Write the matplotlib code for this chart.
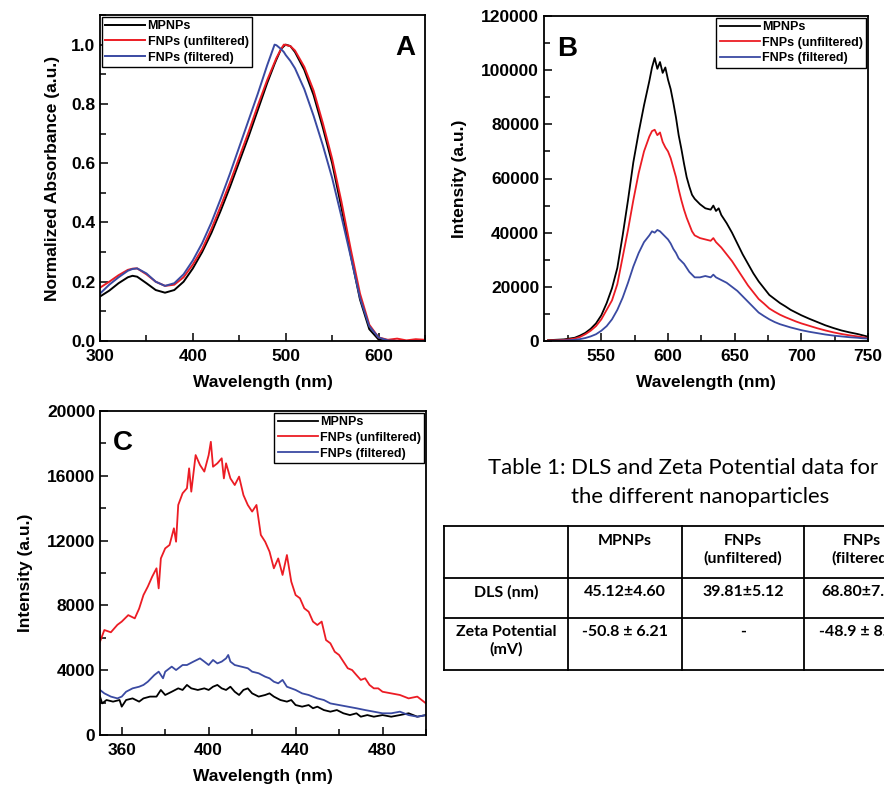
import matplotlib
matplotlib.use("Agg")
import matplotlib.pyplot as plt
from matplotlib.ticker import MultipleLocator

plt.rcParams["font.family"] = ["Liberation Sans", "DejaVu Sans"]
plt.rcParams["font.weight"] = "bold"
plt.rcParams["axes.labelweight"] = "bold"

BLACK = "#000000"
RED = "#ec1c24"
BLUE = "#3a4aa2"
LABELS = ["MPNPs", "FNPs (unfiltered)", "FNPs (filtered)"]

# ---- panel A: normalized absorbance ----
a_wl = [300, 310, 320, 330, 335, 340, 350, 360, 370, 380, 390, 400, 410, 420,
        430, 440, 450, 460, 470, 480, 488, 490, 495, 498, 500, 505, 510, 520,
        530, 540, 550, 560, 570, 580, 590, 600, 610, 620, 630, 640, 650]
a_mpnp = [0.150, 0.170, 0.195, 0.215, 0.220, 0.217, 0.195, 0.172, 0.163, 0.172,
          0.200, 0.245, 0.300, 0.365, 0.440, 0.520, 0.605, 0.690, 0.780, 0.870,
          0.935, 0.950, 0.985, 0.995, 1.000, 0.995, 0.975, 0.915, 0.830, 0.720,
          0.600, 0.450, 0.290, 0.140, 0.040, 0.005, 0.000, 0.000, 0.000, 0.000, 0.000]
a_unfilt = [0.180, 0.200, 0.222, 0.240, 0.244, 0.245, 0.225, 0.200, 0.186, 0.190,
            0.215, 0.258, 0.310, 0.378, 0.455, 0.535, 0.620, 0.705, 0.795, 0.880,
            0.940, 0.955, 0.985, 1.000, 0.999, 0.995, 0.980, 0.925, 0.845, 0.735,
            0.615, 0.470, 0.310, 0.160, 0.055, 0.012, 0.004, 0.008, 0.002, 0.006, 0.004]
a_filt = [0.160, 0.190, 0.215, 0.237, 0.243, 0.245, 0.228, 0.200, 0.186, 0.195,
          0.225, 0.272, 0.330, 0.400, 0.480, 0.565, 0.655, 0.745, 0.835, 0.930,
          1.000, 0.998, 0.985, 0.975, 0.965, 0.945, 0.920, 0.850, 0.760, 0.660,
          0.550, 0.420, 0.285, 0.145, 0.050, 0.012, 0.002, 0.000, 0.000, 0.000, 0.000]

# ---- panel B: emission intensity ----
b_wl = [510, 514, 518, 522, 526, 530, 534, 538, 542, 546, 550, 554, 558, 562, 566,
        570, 574, 578, 582, 586, 588, 590, 592, 594, 596, 598, 600, 602, 604, 606,
        608, 610, 612, 614, 616, 618, 620, 624, 628, 632, 634, 636, 638, 640, 644,
        648, 652, 656, 660, 664, 668, 672, 676, 680, 684, 688, 692, 696, 700, 706,
        712, 718, 724, 730, 736, 742, 746, 750]
b_mpnp = [300, 400, 500, 600, 900, 1200, 2000, 3000, 4500, 6500, 9500, 14000, 19500,
          27000, 39000, 52000, 66000, 77000, 87000, 96000,
          101000, 104500, 100500, 103000, 99000, 101000, 96500, 93000, 88000, 82500,
          76000, 71000, 65500, 60500, 57000, 54000, 52500,
          50500, 49000, 48500, 50000, 48000, 49000, 46500,
          43500, 40000, 36000, 32000, 28500, 25000, 22000, 19500, 17000, 15500, 14000,
          12800, 11500, 10500, 9500,
          8200, 7000, 5800, 4800, 3900, 3200, 2600, 2100, 1600]
b_unfilt = [200, 250, 300, 400, 600, 900, 1500, 2500, 3800, 5500, 8000, 11500, 15000,
            21000, 31000, 41000, 52000, 62000, 70000, 75500,
            77500, 78000, 76000, 77000, 73500, 71500, 70000, 67500, 64000, 60500,
            56000, 52000, 48500, 45500, 43000, 40500, 39000,
            38000, 37500, 37000, 38000, 36500, 35500, 34500,
            32000, 29500, 26500, 23500, 20500, 18000, 15500, 13800, 12000, 10800, 9700,
            8800, 8000, 7200, 6500,
            5600, 4700, 3900, 3200, 2600, 2100, 1700, 1400, 1100]
b_filt = [0, 100, 150, 200, 300, 450, 700, 1100, 1700, 2500, 3800, 5500, 8000,
          11500, 16000, 21500, 27500, 32500, 36500, 39000,
          40500, 40000, 41000, 40500, 39500, 38500, 37500, 36000, 34000, 32500,
          30500, 29500, 28500, 27000, 25500, 24500, 23500,
          23500, 24000, 23500, 24500, 23500, 23000, 22500,
          21500, 20000, 18500, 16500, 14500, 12500, 10500, 9200, 8000, 7000, 6200,
          5600, 5000, 4500, 4000,
          3400, 2900, 2400, 2000, 1700, 1400, 1200, 1000, 900]

# ---- panel C: emission intensity (short wavelength) ----
c_wl_unfilt = [350, 352, 355, 358, 360, 363, 366, 368, 370, 372, 374, 376, 377, 378,
               380, 382, 384, 385, 386, 388, 390, 391, 392, 394, 396, 398, 400, 401,
               402, 404, 406, 407, 408, 410, 412, 414, 416, 418, 420, 422, 424, 426,
               428, 430, 432, 434, 436, 438, 440, 442, 444, 446, 448, 450, 452, 454,
               456, 458, 460, 462, 464, 466, 468, 470, 472, 474, 476, 478, 480, 484,
               488, 492, 496, 500]
c_unfilt = [5760, 6480, 6340, 6800, 7000, 7400, 7200, 7800, 8640, 9160, 9770, 10290,
            9050, 10900, 11520, 11730, 12760, 11930, 14200, 14920, 15230, 16460, 15020,
            17280, 16670, 16260, 17280, 18100, 16560, 16770, 17080, 15840, 16770, 15840,
            15430, 15950, 14810, 14200, 13790, 14200, 12350, 11930, 11320, 10290, 10900,
            9880, 11110, 9470, 8640, 8440, 7820, 7610, 7000, 6790, 7000, 5860, 5660,
            5140, 4940, 4530, 4120, 4010, 3700, 3400, 3500, 3090, 2880, 2880, 2670,
            2570, 2470, 2260, 2370, 1950]
c_wl_filt = [350, 352, 355, 358, 360, 362, 365, 368, 370, 372, 375, 377, 379, 380,
             383, 385, 388, 390, 393, 396, 398, 400, 402, 404, 406, 408, 409, 410,
             412, 415, 418, 420, 423, 426, 428, 430, 432, 434, 436, 438, 440, 443,
             446, 450, 453, 456, 460, 464, 468, 472, 476, 480, 484, 488, 492, 496, 500]
c_filt = [2780, 2570, 2370, 2260, 2370, 2670, 2880, 2980, 3090, 3290, 3700, 3910,
          3500, 3910, 4220, 4010, 4320, 4320, 4530, 4730, 4530, 4320, 4630, 4420,
          4530, 4730, 4940, 4530, 4320, 4220, 4120, 3910, 3810, 3600, 3500, 3290,
          3190, 3400, 2980, 2880, 2780, 2570, 2470, 2260, 2160, 1950, 1850, 1750,
          1650, 1540, 1440, 1340, 1340, 1440, 1230, 1130, 1230]
c_wl_mpnp = [350, 351, 353, 356, 359, 360, 362, 365, 368, 370, 373, 376, 378, 380,
             383, 386, 388, 390, 392, 395, 398, 400, 402, 404, 406, 408, 410, 412,
             414, 416, 418, 420, 423, 426, 428, 430, 433, 436, 438, 440, 443, 446,
             448, 450, 453, 456, 459, 462, 465, 468, 470, 473, 476, 480, 484, 488,
             492, 496, 500]
c_mpnp = [2370, 1950, 2160, 2060, 2160, 1750, 2160, 2260, 2060, 2260, 2370, 2370,
          2780, 2470, 2670, 2880, 2780, 3090, 2880, 2780, 2880, 2780, 2980, 3090,
          2880, 2780, 2980, 2670, 2470, 2780, 2880, 2570, 2370, 2470, 2570, 2370,
          2160, 2060, 2160, 1850, 1750, 1850, 1650, 1750, 1540, 1440, 1540, 1340,
          1230, 1340, 1130, 1230, 1130, 1230, 1130, 1230, 1340, 1130, 1230]

# ---- table ----
table_title = ["Table 1: DLS and Zeta Potential data for", "the different nanoparticles"]
table_header = ["MPNPs", "FNPs\n(unfiltered)", "FNPs\n(filtered)"]
table_rows = ["DLS (nm)", "Zeta Potential\n(mV)"]
table_cells = [["45.12\u00b14.60", "39.81\u00b15.12", "68.80\u00b17.20"],
               ["-50.8 \u00b1 6.21", "-", "-48.9 \u00b1 8.40"]]

W, H = 884, 791
fig = plt.figure(figsize=(W / 100, H / 100), dpi=100)


def px_axes(left, top, right, bottom):
    return fig.add_axes([left / W, 1 - bottom / H, (right - left) / W, (bottom - top) / H])


def style(ax, xmaj, xmin, ymaj, ymin):
    ax.xaxis.set_major_locator(MultipleLocator(xmaj))
    ax.xaxis.set_minor_locator(MultipleLocator(xmin))
    ax.yaxis.set_major_locator(MultipleLocator(ymaj))
    ax.yaxis.set_minor_locator(MultipleLocator(ymin))
    ax.tick_params(which="both", direction="in", top=False, right=False,
                   labelsize=12.5, width=1.1)
    ax.tick_params(which="major", length=6)
    ax.tick_params(which="minor", length=4)
    ax.tick_params(axis="x", pad=6)
    for s in ax.spines.values():
        s.set_linewidth(1.3)


def legend(ax, loc):
    leg = ax.legend(loc=loc, fontsize=9, frameon=True, fancybox=False,
                    edgecolor="black", framealpha=1, borderaxespad=0.15,
                    handlelength=3.2, handletextpad=0.2, labelspacing=0.3,
                    borderpad=0.25)
    leg.get_frame().set_linewidth(1.0)


# A
axA = px_axes(100, 15, 425, 341)
axA.plot(a_wl, a_mpnp, color=BLACK, lw=1.4, label=LABELS[0])
axA.plot(a_wl, a_unfilt, color=RED, lw=1.4, label=LABELS[1])
axA.plot(a_wl, a_filt, color=BLUE, lw=1.4, label=LABELS[2])
axA.set_xlim(300, 650)
axA.set_ylim(0, 1.1)
style(axA, 100, 50, 0.2, 0.1)
axA.set_xlabel("Wavelength (nm)", fontsize=12.5, labelpad=8)
axA.set_ylabel("Normalized Absorbance (a.u.)", fontsize=12.5, labelpad=8)
legend(axA, "upper left")
axA.text(0.94, 0.90, "A", transform=axA.transAxes, fontsize=20, ha="center", va="center")

# B
axB = px_axes(544, 16, 868, 341)
axB.plot(b_wl, b_mpnp, color=BLACK, lw=1.3, label=LABELS[0])
axB.plot(b_wl, b_unfilt, color=RED, lw=1.3, label=LABELS[1])
axB.plot(b_wl, b_filt, color=BLUE, lw=1.3, label=LABELS[2])
axB.set_xlim(507, 750)
axB.set_ylim(0, 120000)
style(axB, 50, 25, 20000, 10000)
axB.set_xlabel("Wavelength (nm)", fontsize=12.5, labelpad=8)
axB.set_ylabel("Intensity (a.u.)", fontsize=12.5, labelpad=10)
legend(axB, "upper right")
axB.text(0.07, 0.9, "B", transform=axB.transAxes, fontsize=20, ha="center", va="center")

# C
axC = px_axes(100, 411, 426, 735)
axC.plot(c_wl_mpnp, c_mpnp, color=BLACK, lw=1.3, label=LABELS[0])
axC.plot(c_wl_unfilt, c_unfilt, color=RED, lw=1.3, label=LABELS[1])
axC.plot(c_wl_filt, c_filt, color=BLUE, lw=1.3, label=LABELS[2])
axC.set_xlim(350, 500)
axC.set_ylim(0, 20000)
style(axC, 40, 20, 4000, 2000)
axC.set_xlabel("Wavelength (nm)", fontsize=12.5, labelpad=8)
axC.set_ylabel("Intensity (a.u.)", fontsize=12.5, labelpad=10)
legend(axC, "upper right")
axC.text(0.07, 0.9, "C", transform=axC.transAxes, fontsize=20, ha="center", va="center")

# table drawn on a full-figure overlay in pixel units
tab = fig.add_axes([0, 0, 1, 1])
tab.set_xlim(0, W)
tab.set_ylim(H, 0)
tab.axis("off")
tfont = ["Lato", "DejaVu Sans"]
tab.text(488, 468, table_title[0], fontsize=15.9, family=tfont, weight="normal",
         ha="left", va="center")
tab.text(571, 497, table_title[1], fontsize=15.9, family=tfont, weight="normal",
         ha="left", va="center")

row_y = [526, 578, 618, 670]
col_x = [444, 568, 682, 804, 920]
for y in row_y:
    tab.plot([col_x[0], col_x[-1]], [y, y], color="black", lw=1.3, clip_on=False)
for x in col_x[:-1]:
    tab.plot([x, x], [row_y[0], row_y[-1]], color="black", lw=1.3, clip_on=False)

col_cx = [(col_x[i] + col_x[i + 1]) / 2 for i in range(4)]
for j, h in enumerate(table_header):
    tab.text(col_cx[j + 1], 534, h, fontsize=11.5, family=tfont, weight="bold",
             ha="center", va="top", linespacing=1.25)
for i, r in enumerate(table_rows):
    ytop = row_y[i + 1] + 7
    tab.text(col_cx[0], ytop, r, fontsize=11.5, family=tfont, weight="bold",
             ha="center", va="top", linespacing=1.25)
    for j, v in enumerate(table_cells[i]):
        tab.text(col_cx[j + 1], ytop, v, fontsize=11.5, family=tfont, weight="bold",
                 ha="center", va="top")

fig.savefig("out.png", dpi=100)
